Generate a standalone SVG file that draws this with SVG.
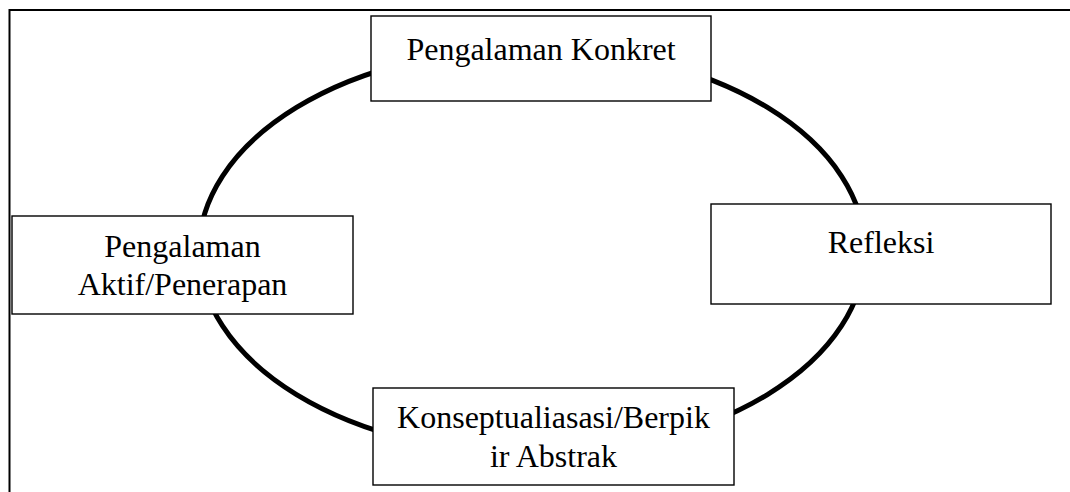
<svg xmlns="http://www.w3.org/2000/svg" width="1070" height="492" viewBox="0 0 1070 492">
<style>
.box{fill:#fff;stroke:#000;stroke-width:1.4}
.t{font-family:"Liberation Serif","Times New Roman",serif;font-size:32px;fill:#000;text-anchor:middle}
.cyc{fill:none;stroke:#000;stroke-width:5}
</style>
<rect x="0" y="0" width="1070" height="492" fill="#fff"/>
<path d="M9.5 492 V10 H1070" fill="none" stroke="#000" stroke-width="2"/>
<g id="connectors">
<ellipse class="cyc" cx="532" cy="251" rx="333" ry="203"/>
</g>
<g id="node-konkret">
<rect class="box" x="371" y="16" width="340" height="85"/>
<text class="t" x="541" y="60">Pengalaman Konkret</text>
</g>
<g id="node-refleksi">
<rect class="box" x="711" y="204" width="340" height="100"/>
<text class="t" x="881" y="253">Refleksi</text>
</g>
<g id="node-konsep">
<rect class="box" x="373" y="388" width="361" height="97"/>
<text class="t" x="553.5" y="428">Konseptualiasasi/Berpik</text>
<text class="t" x="553.5" y="467">ir Abstrak</text>
</g>
<g id="node-aktif">
<rect class="box" x="12" y="216" width="341" height="98"/>
<text class="t" x="182.5" y="257">Pengalaman</text>
<text class="t" x="182.5" y="295">Aktif/Penerapan</text>
</g>
</svg>
